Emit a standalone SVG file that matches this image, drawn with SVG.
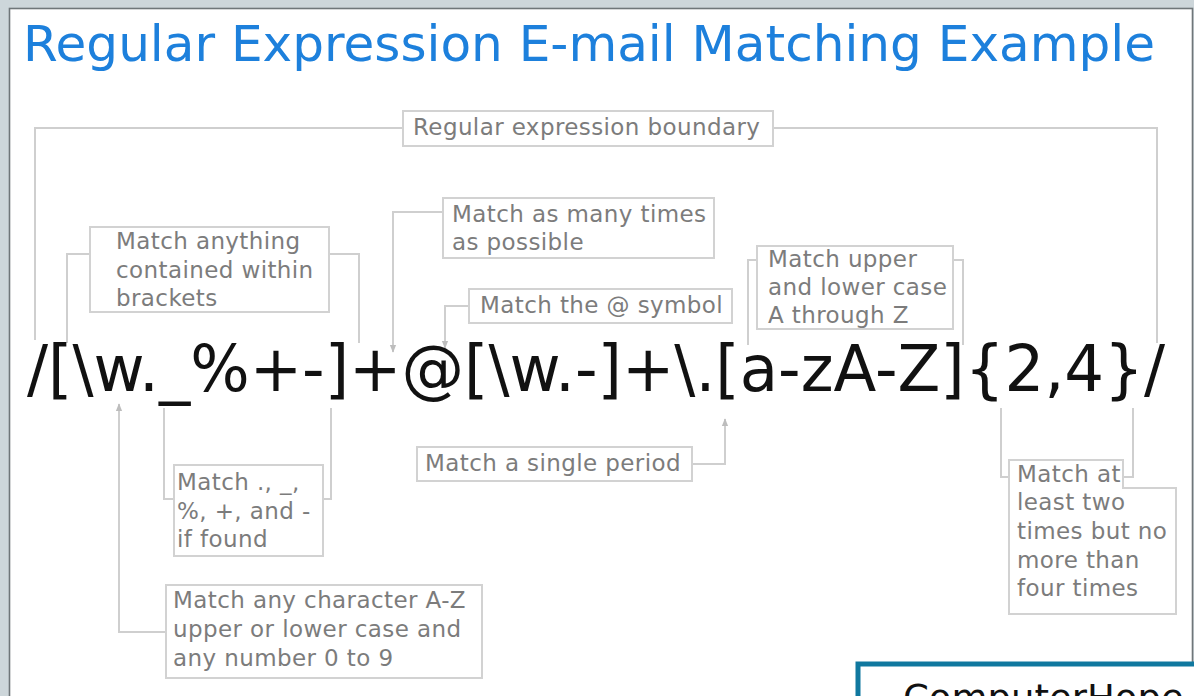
<svg xmlns="http://www.w3.org/2000/svg" width="1194" height="696" viewBox="0 0 1194 696">
<defs>
<style>
.box{fill:#fff;stroke:#d2d2d2;stroke-width:2}
.ln{fill:none;stroke:#cfcfcf;stroke-width:2}
.lbl{font-family:"DejaVu Sans",Verdana,sans-serif;font-size:23px;letter-spacing:0.4px;fill:#7c7c7c}
</style>
<marker id="arr" viewBox="0 0 10 10" refX="9" refY="5" markerWidth="4" markerHeight="4" orient="auto-start-reverse">
<path d="M0,1 L10,5 L0,9 Z" fill="#bdbdbd"/>
</marker>
</defs>
<rect x="0" y="0" width="1194" height="696" fill="#cdd6da"/>
<rect x="9.5" y="8.5" width="1183" height="700" fill="#fff" stroke="#6f7679" stroke-width="1.6"/>
<text id="title" x="23" y="61" font-family="DejaVu Sans,Verdana,sans-serif" font-size="50" fill="#1d80dc" textLength="1132" lengthAdjust="spacingAndGlyphs">Regular Expression E-mail Matching Example</text>
<g id="connectors">
<path class="ln" d="M35,340 V128 H403 M773,128 H1157 V343"/>
<path class="ln" d="M67,343 V254 H90 M329,254 H359 V343"/>
<path class="ln" d="M443,212 H393 V352" marker-end="url(#arr)"/>
<path class="ln" d="M469,306 H445 V348" marker-end="url(#arr)"/>
<path class="ln" d="M757,260 H748 V345 M953,260 H963 V345"/>
<path class="ln" d="M166,632 H119 V404" marker-end="url(#arr)"/>
<path class="ln" d="M164,408 V499 H174 M323,499 H331 V408"/>
<path class="ln" d="M692,464 H725 V419" marker-end="url(#arr)"/>
<path class="ln" d="M1001,408 V477 H1009 M1123,477 H1133 V408"/>
</g>
<text id="regex" x="27" y="391" font-family="DejaVu Sans,Verdana,sans-serif" font-size="64" fill="#111" textLength="1138" lengthAdjust="spacingAndGlyphs">/[\w._%+-]+@[\w.-]+\.[a-zA-Z]{2,4}/</text>
<g id="boundary">
<rect class="box" x="403" y="111" width="370" height="35"/>
<text class="lbl" x="413" y="135">Regular expression boundary</text>
</g>
<g id="brackets">
<rect class="box" x="90" y="227" width="239" height="85"/>
<text class="lbl" x="116" y="249">Match anything</text>
<text class="lbl" x="116" y="278">contained within</text>
<text class="lbl" x="116" y="306">brackets</text>
</g>
<g id="manytimes">
<rect class="box" x="443" y="198" width="271" height="60"/>
<text class="lbl" x="452" y="222">Match as many times</text>
<text class="lbl" x="452" y="250">as possible</text>
</g>
<g id="atsymbol">
<rect class="box" x="469" y="289" width="263" height="34"/>
<text class="lbl" x="480" y="313">Match the @ symbol</text>
</g>
<g id="upperlower">
<rect class="box" x="757" y="246" width="196" height="83"/>
<text class="lbl" x="768" y="267">Match upper</text>
<text class="lbl" x="768" y="295">and lower case</text>
<text class="lbl" x="768" y="323">A through Z</text>
</g>
<g id="specials">
<rect class="box" x="174" y="465" width="149" height="91"/>
<text class="lbl" x="177" y="490">Match ., _,</text>
<text class="lbl" x="177" y="519">%, +, and -</text>
<text class="lbl" x="177" y="547">if found</text>
</g>
<g id="anychar">
<rect class="box" x="166" y="585" width="316" height="93"/>
<text class="lbl" x="173" y="608">Match any character A-Z</text>
<text class="lbl" x="173" y="637">upper or lower case and</text>
<text class="lbl" x="173" y="666">any number 0 to 9</text>
</g>
<g id="period">
<rect class="box" x="417" y="447" width="275" height="34"/>
<text class="lbl" x="425" y="471">Match a single period</text>
</g>
<g id="twotofour">
<path class="box" d="M1009,460 H1123 V488 H1176 V614 H1009 Z"/>
<text class="lbl" x="1017" y="482">Match at</text>
<text class="lbl" x="1017" y="510">least two</text>
<text class="lbl" x="1017" y="539">times but no</text>
<text class="lbl" x="1017" y="568">more than</text>
<text class="lbl" x="1017" y="596">four times</text>
</g>
<g id="credit">
<rect x="858" y="664" width="360" height="60" fill="#fff" stroke="#10789f" stroke-width="5"/>
<text x="903" y="711" font-family="DejaVu Sans,Verdana,sans-serif" font-size="37" fill="#111">ComputerHope</text>
</g>
</svg>
